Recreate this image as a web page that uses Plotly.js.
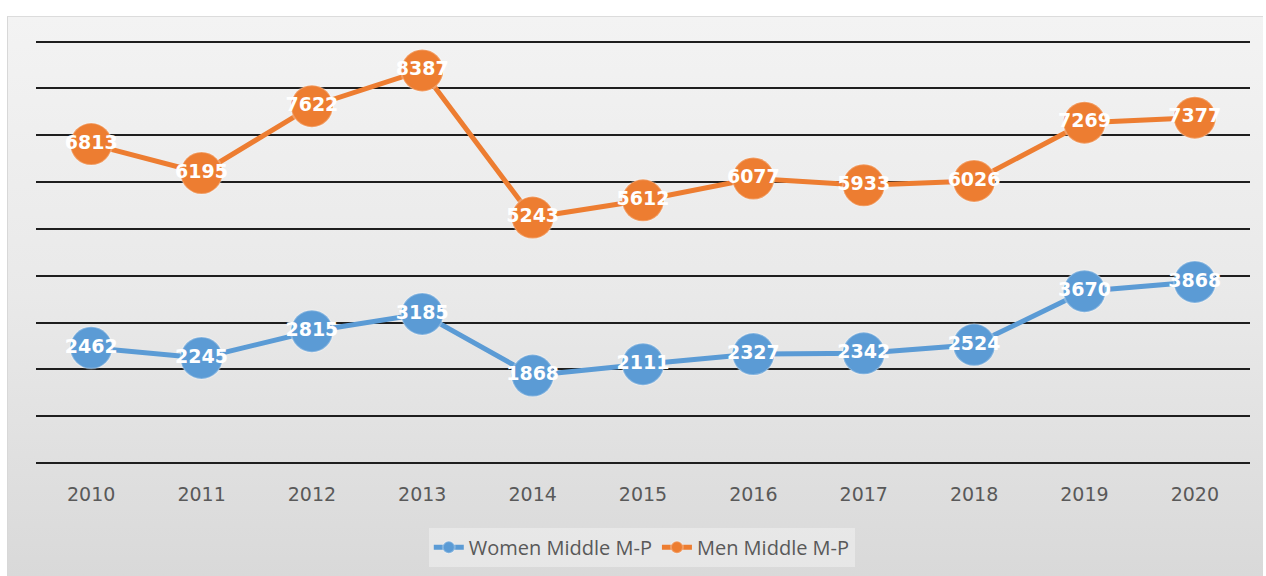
<!DOCTYPE html>
<html>
<head>
<meta charset="utf-8">
<script src="https://cdn.plot.ly/plotly-3.0.1.min.js"></script>
<style>
  html, body { margin: 0; padding: 0; background: #ffffff; }
  #wrap { position: relative; width: 1266px; height: 576px; overflow: hidden; }
  #bg { position: absolute; left: 7px; top: 16px; width: 1255px; height: 560px;
        background: linear-gradient(to bottom, #f3f3f3 0%, #e9e9e9 50%, #d9d9d9 100%);
        border-top: 1px solid #dcdcdc; border-left: 1px solid #d8d8d8; }
  #chart { position: absolute; left: 0; top: 0; width: 1266px; height: 576px; }
</style>
</head>
<body>
<div id="wrap">
  <div id="bg"></div>
  <div id="chart"></div>
</div>
<script>
const years = ['2010','2011','2012','2013','2014','2015','2016','2017','2018','2019','2020'];
const women = [2462, 2245, 2815, 3185, 1868, 2111, 2327, 2342, 2524, 3670, 3868];
const men = [6813, 6195, 7622, 8387, 5243, 5612, 6077, 5933, 6026, 7269, 7377];
const seriesNames = ['Women Middle M-P', 'Men Middle M-P'];

const blue = '#5B9BD5';
const orange = '#ED7D31';

function series(name, vals, color) {
  return {
    type: 'scatter',
    mode: 'lines+markers+text',
    name: name,
    x: years,
    y: vals,
    text: vals.map(String),
    textposition: 'middle center',
    textfont: { family: 'DejaVu Sans', size: 19, color: '#ffffff', weight: 'bold' },
    line: { color: color, width: 5 },
    marker: { color: color, size: 42, line: { color: 'rgba(255,255,255,0.25)', width: 2 } },
    cliponaxis: false,
    hoverinfo: 'x+y'
  };
}

const data = [
  series(seriesNames[0], women, blue),
  series(seriesNames[1], men, orange)
];

const layout = {
  width: 1266,
  height: 576,
  margin: { l: 36, r: 16, t: 37, b: 113, autoexpand: false },
  paper_bgcolor: 'rgba(0,0,0,0)',
  plot_bgcolor: 'rgba(0,0,0,0)',
  showlegend: true,
  legend: {
    orientation: 'h',
    x: 0.499, xanchor: 'center',
    y: -0.152, yanchor: 'top',
    bgcolor: 'rgba(255,255,255,0.35)',
    font: { family: 'Open Sans, DejaVu Sans', size: 20, color: '#595959' },
    itemsizing: 'constant',
    itemwidth: 30
  },
  xaxis: {
    type: 'category',
    range: [-0.5, 10.5],
    automargin: false,
    showgrid: false,
    zeroline: false,
    showline: false,
    ticks: 'outside',
    ticklen: 14,
    tickcolor: 'rgba(0,0,0,0)',
    tickfont: { family: 'DejaVu Sans', size: 19, color: '#595959' }
  },
  yaxis: {
    range: [0, 9100],
    dtick: 1000,
    automargin: false,
    showgrid: true,
    gridcolor: '#1e1e1e',
    gridwidth: 2,
    zeroline: true,
    zerolinecolor: '#1e1e1e',
    zerolinewidth: 2,
    showticklabels: false,
    showline: false,
    fixedrange: true
  }
};

Plotly.newPlot('chart', data, layout, { displayModeBar: false, staticPlot: true });
</script>
</body>
</html>
